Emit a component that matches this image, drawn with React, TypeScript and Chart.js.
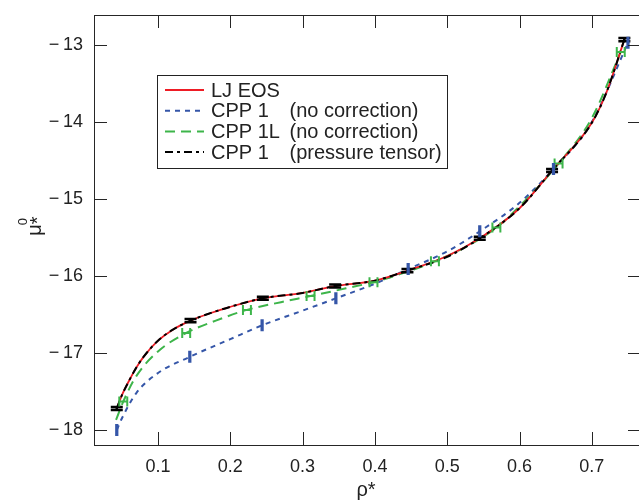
import React, { useEffect, useRef } from "react";
import { Chart, registerables } from "chart.js";

Chart.register(...registerables);

// ---- data ----
const xTicks = [0.1, 0.2, 0.3, 0.4, 0.5, 0.6, 0.7];
const yTicks = [-18, -17, -16, -15, -14, -13];

const legendLabels = [
  "LJ EOS",
  "CPP 1   (no correction)",
  "CPP 1L (no correction)",
  "CPP 1   (pressure tensor)",
];

// LJ EOS curve
const ljX = [0.043, 0.05, 0.06, 0.07, 0.08, 0.1, 0.12, 0.145, 0.17, 0.2, 0.245, 0.3, 0.345, 0.4, 0.445, 0.5, 0.545, 0.6, 0.645, 0.7, 0.72, 0.745];
const ljY = [-17.72, -17.55, -17.36, -17.19, -17.05, -16.84, -16.7, -16.58, -16.49, -16.4, -16.29, -16.22, -16.13, -16.06, -15.93, -15.74, -15.51, -15.12, -14.63, -14.01, -13.62, -12.93];

// CPP 1 (no correction) curve + marked points (x error bars)
const cpp1X = [0.043, 0.05, 0.07, 0.1, 0.144, 0.2, 0.244, 0.3, 0.346, 0.4, 0.446, 0.5, 0.545, 0.6, 0.647, 0.7, 0.75];
const cpp1Y = [-18.0, -17.85, -17.52, -17.26, -17.05, -16.82, -16.64, -16.45, -16.29, -16.1, -15.91, -15.68, -15.42, -15.05, -14.61, -14.0, -12.97];
const cpp1MarkX = [0.043, 0.144, 0.244, 0.346, 0.446, 0.545, 0.647, 0.75];
const cpp1MarkY = [-18.0, -17.05, -16.64, -16.29, -15.91, -15.42, -14.61, -12.97];
const cpp1XErr = [0.001, 0.001, 0.001, 0.001, 0.001, 0.001, 0.001, 0.001];

// CPP 1L (no correction) curve + marked points (x error bars)
const cpp1LX = [0.042, 0.052, 0.07, 0.1, 0.139, 0.18, 0.223, 0.27, 0.311, 0.36, 0.398, 0.44, 0.483, 0.53, 0.568, 0.61, 0.654, 0.7, 0.74];
const cpp1LY = [-17.87, -17.63, -17.3, -16.98, -16.74, -16.58, -16.44, -16.34, -16.26, -16.16, -16.08, -15.96, -15.81, -15.6, -15.37, -15.0, -14.54, -13.95, -13.09];
const cpp1LMarkX = [0.052, 0.139, 0.223, 0.311, 0.398, 0.483, 0.568, 0.654, 0.74];
const cpp1LMarkY = [-17.63, -16.74, -16.44, -16.26, -16.08, -15.81, -15.37, -14.54, -13.09];
const cpp1LXErr = [0.0055, 0.0055, 0.0055, 0.0055, 0.0055, 0.0055, 0.0055, 0.0055, 0.0055];

// CPP 1 (pressure tensor) curve + marked points (y error bars)
const ptCurveX = [0.043, 0.05, 0.06, 0.07, 0.08, 0.1, 0.12, 0.145, 0.17, 0.2, 0.245, 0.3, 0.345, 0.4, 0.445, 0.5, 0.545, 0.6, 0.645, 0.7, 0.72, 0.745];
const ptCurveY = [-17.72, -17.55, -17.36, -17.19, -17.05, -16.84, -16.7, -16.58, -16.49, -16.4, -16.29, -16.22, -16.13, -16.06, -15.93, -15.75, -15.51, -15.12, -14.63, -14.01, -13.62, -12.93];
const ptX = [0.043, 0.145, 0.245, 0.345, 0.445, 0.545, 0.645, 0.745];
const ptY = [-17.72, -16.58, -16.29, -16.13, -15.93, -15.51, -14.63, -12.93];
const ptYErr = [0.02, 0.02, 0.02, 0.02, 0.02, 0.02, 0.02, 0.02];

const RED = "#ee1c25";
const BLUE = "#3556a8";
const GREEN = "#3db54a";
const BLACK = "#000000";
const FONT = "'Liberation Sans', Arial, Helvetica, sans-serif";

const zip = (xs: number[], ys: number[]) => xs.map((x, i) => ({ x, y: ys[i] }));

const fmt = (v: number) => (v < 0 ? "\u2212\u2009" + Math.abs(v) : String(v));

const framePlugin = {
  id: "frame",
  afterDraw(chart: any) {
    const { ctx, chartArea: a, scales } = chart;
    const xs = scales.x;
    const ys = scales.y;
    ctx.save();
    ctx.strokeStyle = "#262626";
    ctx.lineWidth = 1;
    ctx.strokeRect(Math.round(a.left) + 0.5, Math.round(a.top) + 0.5, Math.round(a.right - a.left), Math.round(a.bottom - a.top));
    const tl = 13;
    ctx.beginPath();
    xTicks.forEach((v) => {
      const px = Math.round(xs.getPixelForValue(v)) + 0.5;
      ctx.moveTo(px, a.bottom);
      ctx.lineTo(px, a.bottom - tl);
      ctx.moveTo(px, a.top);
      ctx.lineTo(px, a.top + tl);
    });
    yTicks.forEach((v) => {
      const py = Math.round(ys.getPixelForValue(v)) + 0.5;
      ctx.moveTo(a.left, py);
      ctx.lineTo(a.left + tl, py);
      ctx.moveTo(a.right, py);
      ctx.lineTo(a.right - tl, py);
    });
    ctx.stroke();

    // axis titles
    ctx.fillStyle = "#222";
    ctx.textBaseline = "alphabetic";
    ctx.textAlign = "left";
    // x title: rho*
    ctx.font = `20px ${FONT}`;
    const rw = ctx.measureText("\u03c1").width;
    const sw = ctx.measureText("*").width;
    const x0 = 366 - (rw + sw) / 2;
    ctx.fillText("\u03c1", x0, 496);
    ctx.fillText("*", x0 + rw, 496);

    // y title: mu^0*
    ctx.save();
    ctx.translate(41, 226);
    ctx.rotate(-Math.PI / 2);
    ctx.font = `20px ${FONT}`;
    const mw = ctx.measureText("\u03bc").width;
    const aw = ctx.measureText("*").width;
    const sx = -(mw + aw) / 2;
    ctx.fillText("\u03bc", sx, 0);
    ctx.font = `13px ${FONT}`;
    ctx.fillText("0", sx + mw - 1, -14);
    ctx.font = `20px ${FONT}`;
    ctx.fillText("*", sx + mw, 3);
    ctx.restore();

    // legend
    const lx = 157, ly = 75, lw = 290, lh = 93;
    ctx.fillStyle = "#fff";
    ctx.fillRect(lx, ly, lw, lh);
    ctx.strokeStyle = "#222";
    ctx.lineWidth = 1;
    ctx.strokeRect(lx + 0.5, ly + 0.5, lw, lh);
    const styles = [
      { c: RED, d: [] as number[], w: 1.8 },
      { c: BLUE, d: [5, 5], w: 2 },
      { c: GREEN, d: [10, 6], w: 2 },
      { c: BLACK, d: [8, 4, 3, 4], w: 2 },
    ];
    ctx.font = `20px ${FONT}`;
    const tx = 211;
    const parenX = tx + ctx.measureText("CPP 1L ").width + 2;
    legendLabels.forEach((lab, i) => {
      const yy = 90 + i * 20.7;
      const s = styles[i];
      ctx.beginPath();
      ctx.setLineDash(s.d);
      ctx.strokeStyle = s.c;
      ctx.lineWidth = s.w;
      ctx.moveTo(165, yy);
      ctx.lineTo(204, yy);
      ctx.stroke();
      ctx.setLineDash([]);
      ctx.fillStyle = "#222";
      ctx.textBaseline = "middle";
      const p = lab.indexOf("(");
      if (p >= 0) {
        ctx.fillText(lab.slice(0, p).trim(), tx, yy + 1);
        ctx.fillText(lab.slice(p), parenX + 2, yy + 1);
      } else {
        ctx.fillText(lab, tx, yy + 1);
      }
    });
    ctx.restore();
  },
};

const errPlugin = {
  id: "errbars",
  afterDatasetsDraw(chart: any) {
    const { ctx, scales } = chart;
    ctx.save();
    chart.data.datasets.forEach((ds: any, di: number) => {
      if (!ds.err) return;
      const meta = chart.getDatasetMeta(di);
      ctx.strokeStyle = ds.errColor;
      ctx.lineWidth = ds.errWidth;
      ctx.setLineDash([]);
      meta.data.forEach((pt: any, i: number) => {
        const e = ds.err[i];
        const d = ds.data[i];
        const c = ds.cap / 2;
        ctx.beginPath();
        if (ds.errAxis === "x") {
          const l = scales.x.getPixelForValue(d.x - e);
          const r = scales.x.getPixelForValue(d.x + e);
          ctx.moveTo(l, pt.y);
          ctx.lineTo(r, pt.y);
          ctx.moveTo(l, pt.y - c);
          ctx.lineTo(l, pt.y + c);
          ctx.moveTo(r, pt.y - c);
          ctx.lineTo(r, pt.y + c);
        } else {
          const t = scales.y.getPixelForValue(d.y + e);
          const b = scales.y.getPixelForValue(d.y - e);
          ctx.moveTo(pt.x, t);
          ctx.lineTo(pt.x, b);
          ctx.moveTo(pt.x - c, t);
          ctx.lineTo(pt.x + c, t);
          ctx.moveTo(pt.x - c, b);
          ctx.lineTo(pt.x + c, b);
        }
        ctx.stroke();
      });
    });
    ctx.restore();
  },
};

export default function App() {
  const ref = useRef<HTMLCanvasElement | null>(null);
  useEffect(() => {
    if (!ref.current) return;
    const lineBase = {
      type: "line",
      pointRadius: 0,
      fill: false,
      cubicInterpolationMode: "monotone",
    };
    const chart = new Chart(ref.current, {
      type: "line",
      data: {
        datasets: [
          { ...lineBase, label: legendLabels[3], data: zip(ptCurveX, ptCurveY), borderColor: BLACK, borderWidth: 2, borderDash: [8, 4, 3, 4] } as any,
          { ...lineBase, label: legendLabels[0], data: zip(ljX, ljY), borderColor: RED, borderWidth: 1.8 } as any,
          { ...lineBase, label: legendLabels[2], data: zip(cpp1LX, cpp1LY), borderColor: GREEN, borderWidth: 2, borderDash: [10, 6] } as any,
          { ...lineBase, label: legendLabels[1], data: zip(cpp1X, cpp1Y), borderColor: BLUE, borderWidth: 2, borderDash: [5, 5] } as any,
          { type: "scatter", label: "pt-err", data: zip(ptX, ptY), pointRadius: 0, showLine: false, err: ptYErr, errAxis: "y", cap: 12, errColor: BLACK, errWidth: 2.5 } as any,
          { type: "scatter", label: "cpp1L-err", data: zip(cpp1LMarkX, cpp1LMarkY), pointRadius: 0, showLine: false, err: cpp1LXErr, errAxis: "x", cap: 10, errColor: GREEN, errWidth: 2 } as any,
          { type: "scatter", label: "cpp1-err", data: zip(cpp1MarkX, cpp1MarkY), pointRadius: 0, showLine: false, err: cpp1XErr, errAxis: "x", cap: 12, errColor: BLUE, errWidth: 1.8 } as any,
        ],
      },
      options: {
        animation: false,
        responsive: false,
        devicePixelRatio: 1,
        layout: { padding: { left: 0, top: 15, right: 9, bottom: 0 } },
        plugins: { legend: { display: false }, tooltip: { enabled: false } },
        scales: {
          x: {
            type: "linear",
            min: 0.0115,
            max: 0.768,
            grid: { display: false, drawTicks: false },
            border: { display: false },
            afterBuildTicks: (s: any) => {
              s.ticks = xTicks.map((v) => ({ value: v }));
            },
            afterFit: (s: any) => {
              s.height = 59;
              s.paddingLeft = 0;
              s.paddingRight = 0;
              s.paddingTop = 0;
              s.paddingBottom = 0;
            },
            ticks: {
              padding: 11,
              color: "#222",
              font: { family: FONT, size: 18 },
              maxRotation: 0,
              autoSkip: false,
              callback: (v: any) => String(v),
            },
          },
          y: {
            type: "linear",
            min: -18.195,
            max: -12.61,
            grid: { display: false, drawTicks: false },
            border: { display: false },
            afterBuildTicks: (s: any) => {
              s.ticks = yTicks.map((v) => ({ value: v }));
            },
            afterFit: (s: any) => {
              s.width = 94;
              s.paddingLeft = 0;
              s.paddingRight = 0;
              s.paddingTop = 0;
              s.paddingBottom = 0;
            },
            ticks: {
              padding: 11,
              color: "#222",
              font: { family: FONT, size: 18 },
              autoSkip: false,
              callback: (v: any) => fmt(Number(v)),
            },
          },
        },
      } as any,
      plugins: [errPlugin, framePlugin],
    });
    return () => chart.destroy();
  }, []);
  return (
    <div style={{ position: "fixed", left: 0, top: 0, width: 639, height: 504, overflow: "hidden", background: "#fff" }}>
      <canvas ref={ref} width={650} height={504} style={{ display: "block", width: 650, height: 504 }} />
    </div>
  );
}
